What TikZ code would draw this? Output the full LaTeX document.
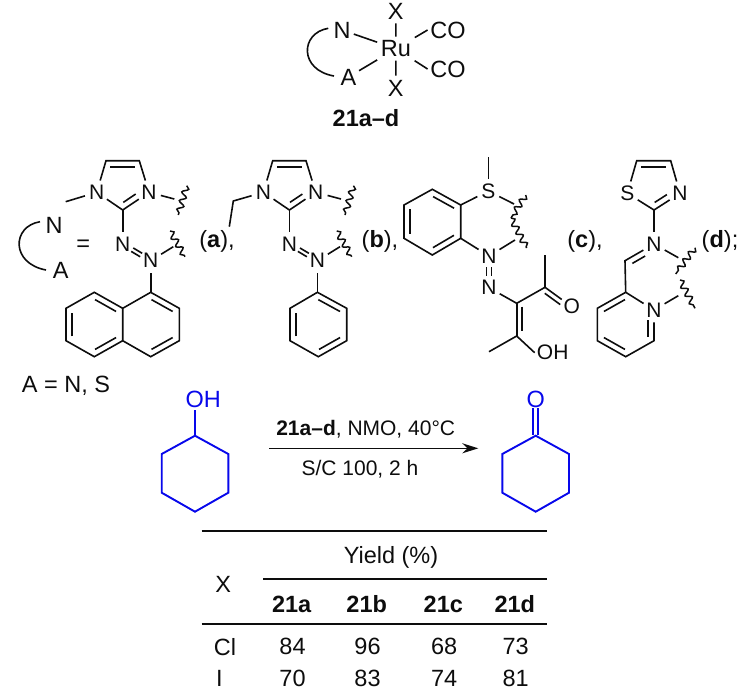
\documentclass[tikz,border=0pt]{standalone}
\usepackage{fontspec}
\setmainfont{Liberation Sans}
\usetikzlibrary{calc, arrows.meta, decorations.pathmorphing}
\definecolor{subblue}{RGB}{8,8,235}
\newcommand{\sidebond}[5]{\draw ($(#1)!#4!(#2)!#3!90:(#2)$) -- ($(#1)!#5!(#2)!#3!90:(#2)$);}
\newcommand{\innerbond}[2]{\sidebond{#1}{#2}{-6pt}{.13}{.87}}
\tikzset{
  atom/.style={circle,inner sep=0pt,minimum size=23pt,font=\fontsize{21}{21}\selectfont},
  bigatom/.style={circle,inner sep=0pt,minimum size=23pt,font=\fontsize{23.5}{23.5}\selectfont},
  group/.style={rectangle,inner sep=1.5pt,font=\fontsize{21}{21}\selectfont},
  biggroup/.style={rectangle,inner sep=2pt,font=\fontsize{23.5}{23.5}\selectfont},
  txt/.style={inner sep=0pt,font=\fontsize{23.5}{23.5}\selectfont},
  cond/.style={inner sep=0pt,font=\fontsize{21}{21}\selectfont},
  wavy/.style={decorate,decoration={snake,segment length=9pt,amplitude=3pt},line width=1.5pt}
}
\begin{document}
\begin{tikzpicture}[x=1pt,y=-1pt,line width=1.6pt,color=black!95]
  \useasboundingbox (0,0) rectangle (738,694);
  % ruthenium complex
  \path (396,48.7) node[biggroup,inner sep=3pt] (ru) {Ru} (342,30) node[bigatom] (tn) {N} (348.5,77) node[bigatom] (ta) {A}
  (395.7,11) node[bigatom] (tx1) {X} (395.7,88) node[bigatom] (tx2) {X}
  (448,30) node[biggroup] (co1) {CO} (448,69) node[biggroup] (co2) {CO}
  (328.3,28.3) coordinate (tq1) (334,76) coordinate (tq2);
  \draw (tn) -- (ru); \draw (ta) -- (ru); \draw (tx1) -- (ru); \draw (tx2) -- (ru);
  \draw (ru) -- (co1.west); \draw (ru) -- (co2.west);
  \draw (tq1) .. controls (300,33) and (299,70) .. (tq2);
  \node[txt] (tname) at (366,118) {\textbf{21a--d}};
  % ligand key
  \path (54,225) node[bigatom] (kn) {N} (60.7,270.7) node[bigatom] (ka) {A}
  (40,221.7) coordinate (kq1) (46,270) coordinate (kq2);
  \draw (kq1) .. controls (11.7,226.4) and (10.7,263.4) .. (kq2);
  \node[txt] (keq) at (83.3,245.7) {=};
  \node[txt] (kas) at (66,386) {A = N, S};
  % ligands a and b share the azoimidazole
  \foreach \s/\dx in {a/0,b/166.7}{
    \path (96.7+\dx,192.3) node[atom] (\s n1) {N} (149+\dx,192.3) node[atom] (\s n3) {N}
    (122.7+\dx,210) coordinate (\s c2) (139.3+\dx,160.7) coordinate (\s c4) (106+\dx,160.7) coordinate (\s c5)
    (122.7+\dx,244) node[atom] (\s n4) {N} (150.7+\dx,260.7) node[atom] (\s n5) {N}
    (150.7+\dx,292.3) coordinate (\s r1)
    (174.3+\dx,199) coordinate (\s w1) (186.7+\dx,185.7) coordinate (\s w2) (178.3+\dx,215) coordinate (\s w3)
    (173.3+\dx,246.7) coordinate (\s w4) (170+\dx,231) coordinate (\s w5) (185+\dx,256.7) coordinate (\s w6);
    \draw (\s n1) -- (\s c5) -- (\s c4) -- (\s n3) -- (\s c2) -- (\s n1);
    \sidebond{\s c5}{\s c4}{-6pt}{.13}{.87}
    \sidebond{\s n3}{\s c2}{-6pt}{.38}{.85}
    \draw (\s c2) -- (\s n4);
    \sidebond{\s n4}{\s n5}{2pt}{.34}{.66}
    \sidebond{\s n4}{\s n5}{-2pt}{.34}{.66}
    \draw (\s n5) -- (\s r1);
    \draw (\s n3) -- (\s w1);
    \draw (\s n5) -- (\s w4);
    \draw[wavy] (\s w2) -- (\s w3);
    \draw[wavy] (\s w5) -- (\s w6);
  }
  \path (65.7,201.7) coordinate (ame);
  \draw (an1) -- (ame);
  % naphthyl
  \path (179.3,308.3) coordinate (ar2) (179.3,340.7) coordinate (ar3) (150.7,356.7) coordinate (ar4)
  (122.7,340.7) coordinate (ar5) (122.7,308.3) coordinate (ar6) (94.3,292.3) coordinate (ar7)
  (66,308.3) coordinate (ar8) (66,340.7) coordinate (ar9) (94.3,356.7) coordinate (ar10);
  \draw (ar1) -- (ar2) -- (ar3) -- (ar4) -- (ar5) -- (ar6) -- cycle;
  \draw (ar6) -- (ar7) -- (ar8) -- (ar9) -- (ar10) -- (ar5);
  \innerbond{ar1}{ar2} \innerbond{ar3}{ar4} \innerbond{ar7}{ar6} \innerbond{ar9}{ar8} \innerbond{ar5}{ar10}
  \node[txt] (la) at (217,241.7) {(\textbf{a}),};
  % ethyl and phenyl
  \path (233.3,201) coordinate (bet1) (229.3,226.7) coordinate (bet2)
  (346.7,308.3) coordinate (br2) (346.7,340.7) coordinate (br3) (318.3,356.7) coordinate (br4)
  (290,340.7) coordinate (br5) (290,308.3) coordinate (br6);
  \draw (bn1) -- (bet1) -- (bet2);
  \draw (br1) -- (br2) -- (br3) -- (br4) -- (br5) -- (br6) -- cycle;
  \innerbond{br1}{br2} \innerbond{br3}{br4} \innerbond{br5}{br6}
  \node[txt] (lb) at (380,241.7) {(\textbf{b}),};
  % ligand c
  \path (432.3,189.3) coordinate (cr1) (460.7,205) coordinate (cr2) (460.7,238.3) coordinate (cr3)
  (432.3,255) coordinate (cr4) (404,238.3) coordinate (cr5) (404,205) coordinate (cr6)
  (488.3,191) node[atom] (cs) {S} (488.3,157.3) coordinate (cme)
  (489,256) node[atom] (cn1) {N} (489,287.7) node[atom] (cn2) {N}
  (516.7,303.3) coordinate (cc1) (545,287.3) coordinate (cc2) (545,255) coordinate (cme2)
  (571.7,306.7) node[atom] (co) {O} (516.7,336) coordinate (cc3)
  (552.7,352.7) node[group] (coh) {OH} (489,351.7) coordinate (cme3)
  (514,204) coordinate (cw1) (515,240) coordinate (cw2)
  (525.7,195) coordinate (cw3) (511,218) coordinate (cw4) (526.7,248) coordinate (cw5);
  \draw (cr1) -- (cr2) -- (cr3) -- (cr4) -- (cr5) -- (cr6) -- cycle;
  \innerbond{cr1}{cr2} \innerbond{cr3}{cr4} \innerbond{cr5}{cr6}
  \draw (cr2) -- (cs); \draw (cr3) -- (cn1); \draw (cs) -- (cme);
  \draw (cs) -- (cw1); \draw (cn1) -- (cw2);
  \draw[wavy] (cw3) -- (cw4); \draw[wavy] (cw4) -- (cw5);
  \sidebond{cn1}{cn2}{2.5pt}{.35}{.62}
  \sidebond{cn1}{cn2}{-2.5pt}{.35}{.62}
  \draw (cn2) -- (cc1) -- (cc2) -- (cme2);
  \draw (cc2) -- (co);
  \sidebond{cc2}{co}{-5pt}{.1}{.68}
  \draw (cc1) -- (cc3);
  \sidebond{cc1}{cc3}{5.5pt}{.1}{.85}
  \draw (cme3) -- (cc3) -- (coh.west);
  \node[txt] (lc) at (585,241.7) {(\textbf{c}),};
  % ligand d
  \path (627.3,193.3) node[atom] (ds) {S} (680,193.3) node[atom] (dn1) {N} (654,210) coordinate (dc2)
  (636.7,160.7) coordinate (dc5) (670.7,160.7) coordinate (dc4)
  (654,244) node[atom] (dn2) {N} (625,260.7) coordinate (dc6) (625.7,292.3) coordinate (dr1)
  (654,310) node[atom] (dn3) {N} (654,340.7) coordinate (dr3) (625.7,356.7) coordinate (dr4)
  (597.3,340.7) coordinate (dr5) (597.3,308.3) coordinate (dr6)
  (678.3,257.7) coordinate (dw1) (695,247.7) coordinate (dw2) (675.7,274) coordinate (dw3)
  (678.3,295.7) coordinate (dw4) (680,280) coordinate (dw5) (695,308.3) coordinate (dw6);
  \draw (ds) -- (dc5) -- (dc4) -- (dn1) -- (dc2) -- (ds);
  \innerbond{dc5}{dc4}
  \sidebond{dn1}{dc2}{-6pt}{.38}{.85}
  \draw (dc2) -- (dn2); \draw (dn2) -- (dc6) -- (dr1);
  \sidebond{dn2}{dc6}{6pt}{.41}{.85}
  \draw (dr1) -- (dn3); \draw (dn3) -- (dr3) -- (dr4) -- (dr5) -- (dr6) -- (dr1);
  \sidebond{dn3}{dr3}{-6pt}{.33}{.87}
  \innerbond{dr4}{dr5} \innerbond{dr6}{dr1}
  \draw (dn2) -- (dw1); \draw (dn3) -- (dw4);
  \draw[wavy] (dw2) -- (dw3); \draw[wavy] (dw5) -- (dw6);
  \node[txt] (ld) at (720,241.7) {(\textbf{d});};
  % reaction
  \begin{scope}[color=subblue,line width=1.9pt]
    \path (203.3,399) node[biggroup,text=subblue] (soh) {OH}
    (195,435.7) coordinate (s1) (228.3,454) coordinate (s2) (228.3,492.7) coordinate (s3)
    (195,511.7) coordinate (s4) (161.7,492.7) coordinate (s5) (161.7,454) coordinate (s6)
    (535.7,399) node[bigatom,text=subblue] (po) {O}
    (535.7,435.7) coordinate (p1) (569,454) coordinate (p2) (569,492.7) coordinate (p3)
    (535.7,511.7) coordinate (p4) (502.3,492.7) coordinate (p5) (502.3,454) coordinate (p6);
    \draw (s1) -- (s2) -- (s3) -- (s4) -- (s5) -- (s6) -- cycle;
    \draw (s1) -- (s1 |- soh.south);
    \draw (p1) -- (p2) -- (p3) -- (p4) -- (p5) -- (p6) -- cycle;
    \sidebond{po}{p1}{2.7pt}{.25}{.98}
    \sidebond{po}{p1}{-2.7pt}{.25}{.98}
  \end{scope}
  \path (269,448.3) coordinate (ar0) (478.3,448.3) coordinate (ar9e);
  \draw[-{Stealth[length=16pt,width=10pt]}] (ar0) -- (ar9e);
  \node[cond] (cond1) at (365.7,429) {\textbf{21a--d}, NMO, 40°C};
  \node[cond] (cond2) at (360,469) {S/C 100, 2 h};
  % yield table
  \path (201.7,530.7) coordinate (tl1) (546.7,530.7) coordinate (tr1) (263.3,579) coordinate (tl2)
  (546.7,579) coordinate (tr2) (201.7,624) coordinate (tl3) (546.7,624) coordinate (tr3);
  \draw (tl1) -- (tr1); \draw (tl2) -- (tr2); \draw (tl3) -- (tr3);
  \node[txt] (yhead) at (391,557.3) {Yield (\%)};
  \node[txt] (xhead) at (223.3,584) {X};
  \foreach \n/\x/\h/\u/\v in {a/291.7/21a/84/70,b/366.7/21b/96/83,c/443.3/21c/68/74,d/514.8/21d/73/81}{
    \node[txt] (h\n) at (\x,604) {\textbf{\h}};
    \node[txt] (u\n) at (\x+0.8,646.7) {\u};
    \node[txt] (v\n) at (\x+0.8,678.3) {\v};
  }
  \node[txt] (xcl) at (225,646.7) {Cl};
  \node[txt] (xi) at (219.3,678.3) {I};
\end{tikzpicture}
\end{document}
